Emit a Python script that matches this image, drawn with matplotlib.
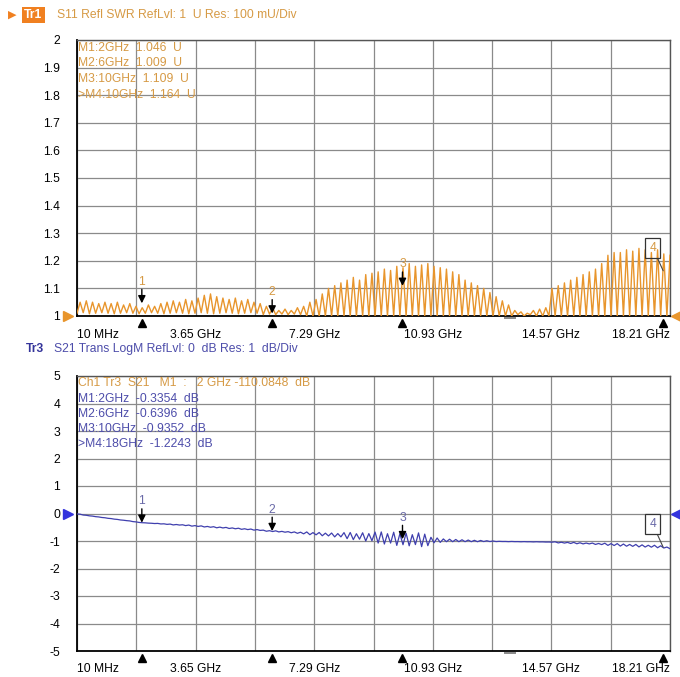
import numpy as np
import matplotlib
matplotlib.use("Agg")
import matplotlib.pyplot as plt

plt.rcParams["font.family"] = ["Liberation Sans", "DejaVu Sans"]

# sweep 10 MHz .. 18.21 GHz, 1.82 GHz per division
f_start = 0.01
f_stop = 18.21
x_labels = ["10 MHz", "", "3.65 GHz", "", "7.29 GHz", "", "10.93 GHz", "", "14.57 GHz", "", "18.21 GHz"]

# S11 SWR trace: one peak / one trough per ripple
swr_peaks = [1.05, 1.055, 1.05, 1.045,
             1.05, 1.045, 1.05, 1.04, 1.045,
             1.035, 1.03, 1.04, 1.035, 1.045,
             1.05, 1.055, 1.05, 1.06, 1.055, 1.065,
             1.075, 1.08, 1.07,
             1.065, 1.06, 1.065, 1.055, 1.06, 1.05, 1.045,
             1.035, 1.03, 1.02, 1.025, 1.02, 1.03, 1.035,
             1.05, 1.06, 1.08,
             1.10, 1.11, 1.12,
             1.13, 1.14, 1.13, 1.15, 1.155, 1.16,
             1.17, 1.165, 1.18, 1.175,
             1.19, 1.18, 1.185, 1.19, 1.18, 1.175,
             1.17, 1.16, 1.15, 1.13,
             1.12, 1.11, 1.10, 1.085, 1.07,
             1.055, 1.04,
             1.02, 1.015, 1.01, 1.02, 1.025, 1.03,
             1.10, 1.11, 1.12, 1.13, 1.14, 1.15, 1.16, 1.17, 1.19,
             1.22, 1.23, 1.23, 1.24, 1.235, 1.245, 1.24, 1.23, 1.24, 1.225,
             1.22]
swr_troughs = [1.01, 1.012, 1.008, 1.01, 1.012, 1.01, 1.008, 1.01, 1.012, 1.01,
               1.008, 1.01, 1.012, 1.01, 1.008, 1.01, 1.012, 1.01, 1.008, 1.01,
               1.012, 1.01, 1.008, 1.01, 1.012, 1.01, 1.008, 1.01, 1.012, 1.01,
               1.005, 1.007, 1.005, 1.007, 1.005, 1.007, 1.005,
               1.0, 1.0, 1.0, 1.0, 1.0, 1.0, 1.0, 1.0, 1.0, 1.0,
               1.0, 1.0, 1.0, 1.0, 1.0, 1.0, 1.0, 1.0, 1.0, 1.0,
               1.0, 1.0, 1.0, 1.0, 1.0, 1.0, 1.0, 1.0, 1.0, 1.0,
               1.0, 1.0, 1.0,
               1.0, 1.005, 1.0, 1.005, 1.0, 1.0,
               1.0, 1.0, 1.0, 1.0, 1.0, 1.0, 1.0, 1.0, 1.0, 1.0,
               1.0, 1.0, 1.0, 1.0, 1.0, 1.0, 1.0, 1.0, 1.0, 1.0]

# S21 trace: mean level and ripple half-height per ripple
s21_mid = [-0.02, -0.06, -0.09, -0.12, -0.15, -0.18, -0.21, -0.24, -0.265, -0.30,
           -0.33, -0.345, -0.36, -0.37, -0.385, -0.40, -0.41, -0.425, -0.44, -0.455,
           -0.47, -0.485, -0.50, -0.51, -0.525, -0.54, -0.555, -0.57, -0.585, -0.60,
           -0.625, -0.64, -0.65, -0.665, -0.68, -0.695, -0.71, -0.72, -0.735, -0.75,
           -0.765, -0.78, -0.79, -0.805, -0.82, -0.835, -0.85, -0.86, -0.875, -0.89,
           -0.905, -0.92, -0.935, -0.945, -0.95, -0.955, -0.96, -0.965, -0.97, -0.975,
           -0.98, -0.985, -0.99, -0.995, -1.0, -1.0, -1.005, -1.01, -1.015, -1.02,
           -1.02, -1.025, -1.025, -1.03, -1.03, -1.035, -1.04, -1.05, -1.06, -1.07,
           -1.075, -1.085, -1.09, -1.10, -1.11, -1.12, -1.13, -1.14, -1.15, -1.16,
           -1.17, -1.18, -1.19, -1.20, -1.215, -1.25]
s21_ripple = [0.005, 0.005, 0.005, 0.005, 0.005, 0.005, 0.005, 0.005, 0.005, 0.005,
              0.005, 0.005, 0.005,
              0.01, 0.01, 0.015, 0.01, 0.015, 0.02, 0.015, 0.02, 0.015, 0.02, 0.015,
              0.02, 0.015, 0.02, 0.015, 0.02, 0.015, 0.02, 0.015, 0.02, 0.015, 0.02, 0.025,
              0.03, 0.05, 0.04, 0.06, 0.05, 0.07, 0.06,
              0.11, 0.13, 0.10, 0.15, 0.13,
              0.20, 0.22, 0.17, 0.24, 0.20, 0.23, 0.18, 0.25, 0.21,
              0.10, 0.08,
              0.05, 0.045, 0.04, 0.035, 0.03, 0.025, 0.02, 0.015, 0.01,
              0.003, 0.003, 0.003, 0.003, 0.003, 0.003, 0.003, 0.003, 0.003,
              0.02, 0.015, 0.02, 0.025, 0.02, 0.015, 0.025, 0.02,
              0.04, 0.035, 0.045, 0.04, 0.035, 0.045, 0.04, 0.035, 0.045, 0.04, 0.03]

# markers
marker_freq = [2, 6, 10, 18]
swr_marker_val = [1.046, 1.009, 1.109, 1.164]
s21_marker_val = [-0.3354, -0.6396, -0.9352, -1.2243]

swr_lines = ["M1:2GHz  1.046  U", "M2:6GHz  1.009  U", "M3:10GHz  1.109  U", ">M4:10GHz  1.164  U"]
s21_lines = ["M1:2GHz  -0.3354  dB", "M2:6GHz  -0.6396  dB", "M3:10GHz  -0.9352  dB", ">M4:18GHz  -1.2243  dB"]

ORANGE = "#E8952C"
ORANGE_TXT = "#D69A45"
BLUE = "#3F3FAE"
BLUE_TXT = "#4D4DAA"
GRID = "#8A8A8A"
FS = 8.7

W, H = 680, 677


def fpos(x, y):
    return x / W, 1 - y / H


fig = plt.figure(figsize=(W / 100, H / 100), dpi=100)
ax1 = fig.add_axes([77 / W, 1 - 316 / H, 593 / W, 276 / H])
ax2 = fig.add_axes([77 / W, 1 - 651 / H, 593 / W, 275 / H])

grid_f = np.linspace(f_start, f_stop, 11)

# zig-zag trace samples on the sweep grid
swr_y = np.ravel(np.column_stack([swr_troughs, swr_peaks]))
swr_f = np.linspace(f_start, f_stop, len(swr_y))
hi = np.array(s21_mid) + np.array(s21_ripple)
lo = np.array(s21_mid) - np.array(s21_ripple)
s21_y = np.ravel(np.column_stack([hi, lo]))
s21_f = np.linspace(f_start, f_stop, len(s21_y))

ax1.plot(swr_f, swr_y, color=ORANGE, lw=1.0, zorder=3)
ax2.plot(s21_f, s21_y, color=BLUE, lw=0.9, zorder=3)

for ax, ylo, yhi, yt, ytl in [
    (ax1, 1.0, 2.0, np.linspace(1, 2, 11), ["1", "1.1", "1.2", "1.3", "1.4", "1.5", "1.6", "1.7", "1.8", "1.9", "2"]),
    (ax2, -5, 5, np.arange(-5, 6), [str(v) for v in range(-5, 6)]),
]:
    ax.set_xlim(f_start, f_stop)
    ax.set_ylim(ylo, yhi)
    ax.set_yticks(yt)
    ax.set_yticklabels(ytl, fontsize=FS)
    ax.set_xticks(grid_f)
    ax.set_xticklabels(x_labels, fontsize=FS)
    lbls = ax.get_xticklabels()
    lbls[0].set_ha("left")
    lbls[-1].set_ha("right")
    ax.tick_params(axis="y", length=0, pad=12)
    ax.tick_params(axis="x", length=0, pad=9)
    ax.grid(True, color=GRID, lw=0.9)
    for s in ["top", "right"]:
        ax.spines[s].set_color("#555555")
        ax.spines[s].set_linewidth(1.0)
    for s in ["left", "bottom"]:
        ax.spines[s].set_color("black")
        ax.spines[s].set_linewidth(1.3)
    # marker triangles under the grid
    ax.plot(marker_freq, [-0.025] * 4, transform=ax.get_xaxis_transform(), marker="^",
            ls="none", ms=6, color="black", clip_on=False)
    ax.plot([13.3], [-0.008], transform=ax.get_xaxis_transform(), marker="_",
            ms=9, mew=1.2, color="#777777", clip_on=False)

# reference level arrows
ax1.plot([-0.015], [0.0], transform=ax1.transAxes, marker=">", ms=7, color=ORANGE, clip_on=False)
ax1.plot([1.01], [0.0], transform=ax1.transAxes, marker="<", ms=7, color=ORANGE, clip_on=False)
ax2.plot([-0.015], [0.5], transform=ax2.transAxes, marker=">", ms=7, color="#3333DD", clip_on=False)
ax2.plot([1.01], [0.5], transform=ax2.transAxes, marker="<", ms=7, color="#3333DD", clip_on=False)

# marker arrows and numbers
for ax, vals, numcol, boxfc in [(ax1, swr_marker_val, ORANGE_TXT, "none"),
                                 (ax2, s21_marker_val, "#6A6AA8", "white")]:
    for i, (f, v) in enumerate(zip(marker_freq, vals)):
        if i < 3:
            ax.annotate("", xy=(f, v), xytext=(0, 10), textcoords="offset points",
                        arrowprops=dict(arrowstyle="-|>", color="black", lw=1.0,
                                        mutation_scale=11, shrinkA=0, shrinkB=0), zorder=5)
            ax.annotate(str(i + 1), xy=(f, v), xytext=(0, 15.5), textcoords="offset points",
                        ha="center", va="center", fontsize=FS, color=numcol)
        else:
            ax.annotate(str(i + 1), xy=(f, v), xytext=(-7.5, 16.5), textcoords="offset points",
                        ha="center", va="center", fontsize=FS, color=numcol,
                        bbox=dict(boxstyle="square,pad=0.35", fc=boxfc, ec="#333333", lw=0.9),
                        arrowprops=dict(arrowstyle="-", color="#444444", lw=0.8,
                                        shrinkA=0, shrinkB=0), zorder=6)

# marker readouts
for k, s in enumerate(swr_lines):
    fig.text(*fpos(78, 48 + 15.5 * k), s, fontsize=FS, color=ORANGE_TXT, va="center", ha="left")
fig.text(*fpos(78, 383), "Ch1 Tr3  S21   M1  :   2 GHz -110.0848  dB", fontsize=FS,
         color=ORANGE_TXT, va="center", ha="left")
for k, s in enumerate(s21_lines):
    fig.text(*fpos(78, 399 + 15 * k), s, fontsize=FS, color=BLUE_TXT, va="center", ha="left")

# trace headers
fig.text(*fpos(8, 15), "\u25B6", fontsize=8, color="#F08020", va="center", ha="left")
fig.text(*fpos(33.5, 15), "Tr1", fontsize=FS, color="white", fontweight="bold", va="center", ha="center",
         bbox=dict(boxstyle="square,pad=0.2", fc="#F08020", ec="none"))
fig.text(*fpos(57, 15), "S11 Refl SWR RefLvl: 1  U Res: 100 mU/Div", fontsize=FS,
         color=ORANGE_TXT, va="center", ha="left")
fig.text(*fpos(26, 349), "Tr3", fontsize=FS, color="#34349A", fontweight="bold", va="center", ha="left")
fig.text(*fpos(54, 349), "S21 Trans LogM RefLvl: 0  dB Res: 1  dB/Div", fontsize=FS,
         color=BLUE_TXT, va="center", ha="left")

fig.savefig("out.png", dpi=100)
